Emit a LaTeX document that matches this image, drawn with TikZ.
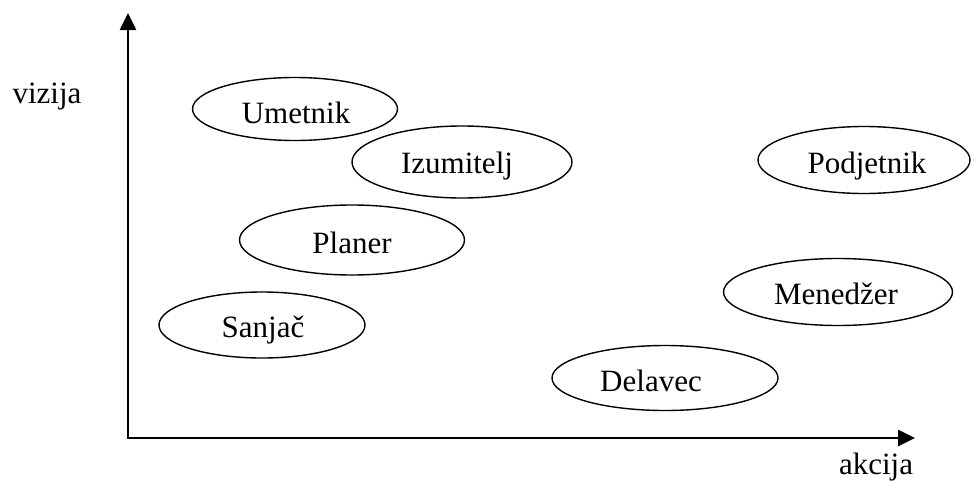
\documentclass[tikz,border=0pt]{standalone}
\usepackage{fontspec}
\setmainfont{Liberation Serif}
\usetikzlibrary{shapes.geometric,arrows.meta}

\tikzset{
  role/.style={draw, line width=1.4pt, ellipse, inner sep=0pt},
  lbl/.style={anchor=base, inner sep=0pt, font=\fontsize{31}{36}\selectfont},
  axis/.style={line width=2.6pt, -{Triangle[length=17pt,width=16pt]}}
}

\begin{document}
\begin{tikzpicture}[x=1pt,y=-1pt]
  \useasboundingbox (0,0) rectangle (974,482);

  % axes
  \coordinate (o) at (128,438);
  \coordinate (ytop) at (128,13);
  \coordinate (xend) at (915,438);
  \draw[axis] (o) -- (ytop);
  \draw[axis] ([xshift=-1.3pt]o) -- (xend);
  \node[lbl] (vizija) at (47,103) {vizija};
  \node[lbl] (akcija) at (876,474) {akcija};

  % roles
  \node[role, minimum width=205pt, minimum height=63pt] (umetnik) at (295,109) {};
  \node[lbl] (t-umetnik) at (296,123) {Umetnik};

  \node[role, minimum width=220pt, minimum height=72pt] (izumitelj) at (462,162) {};
  \node[lbl] (t-izumitelj) at (457,173) {Izumitelj};

  \node[role, minimum width=225pt, minimum height=70pt] (planer) at (352,240) {};
  \node[lbl] (t-planer) at (352,253) {Planer};

  \node[role, minimum width=206pt, minimum height=66pt] (sanjac) at (262,325) {};
  \node[lbl] (t-sanjac) at (263,337) {Sanjač};

  \node[role, minimum width=212pt, minimum height=67pt] (podjetnik) at (864,160) {};
  \node[lbl] (t-podjetnik) at (867,173) {Podjetnik};

  \node[role, minimum width=229pt, minimum height=67pt] (menedzer) at (838,292) {};
  \node[lbl] (t-menedzer) at (836,304) {Menedžer};

  \node[role, minimum width=226pt, minimum height=65pt] (delavec) at (665,378) {};
  \node[lbl] (t-delavec) at (651,391) {Delavec};
\end{tikzpicture}
\end{document}
